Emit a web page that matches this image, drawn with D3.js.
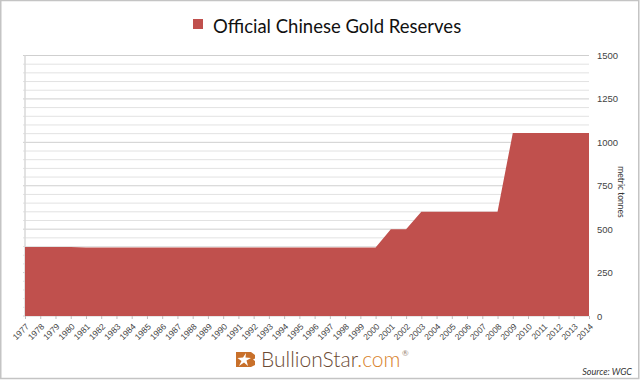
<!DOCTYPE html>
<html lang="en">

<head>
    <meta charset="UTF-8">
    <title>Official Chinese Gold Reserves</title>
    <script src="https://cdn.jsdelivr.net/npm/d3@7"></script>
    <style>
        html, body {
            margin: 0;
            padding: 0;
            background: #fff;
        }

        svg {
            display: block;
            font-family: Lato, "Open Sans", sans-serif;
        }

        .domain {
            display: none;
        }
    </style>
</head>

<body>
    <script>
        const years = [1977, 1978, 1979, 1980, 1981, 1982, 1983, 1984, 1985, 1986, 1987, 1988, 1989,
            1990, 1991, 1992, 1993, 1994, 1995, 1996, 1997, 1998, 1999, 2000, 2001, 2002, 2003,
            2004, 2005, 2006, 2007, 2008, 2009, 2010, 2011, 2012, 2013, 2014];
        const reserves = [398, 398, 398, 398, 395, 395, 395, 395, 395, 395, 395, 395, 395,
            395, 395, 395, 395, 395, 395, 395, 395, 395, 395, 395, 500, 500, 600,
            600, 600, 600, 600, 600, 1054, 1054, 1054, 1054, 1054, 1054];
        const yLabels = [0, 250, 500, 750, 1000, 1250, 1500];
        const minorGrid = d3.range(0, 1501, 50);

        const w = 640;
        const h = 380;
        const red = "#c0504d";

        const svg = d3.select("body")
            .append("svg")
            .attr("width", w)
            .attr("height", h);

        // picture frame
        svg.append("rect")
            .attr("x", 0.75)
            .attr("y", 0.5)
            .attr("width", 638)
            .attr("height", 378)
            .attr("fill", "#fff")
            .attr("stroke", "#c4c4c4")
            .attr("stroke-width", 1.5);

        const scaleX = d3.scaleLinear().domain([1977, 2014]).range([25, 589]);
        const scaleY = d3.scaleLinear().domain([0, 1500]).range([316, 55.5]);

        // grid, heavier on the labelled values
        svg.selectAll("line.grid")
            .data(minorGrid)
            .enter()
            .append("line")
            .attr("class", "grid")
            .attr("x1", 23)
            .attr("x2", 589)
            .attr("y1", d => scaleY(d))
            .attr("y2", d => scaleY(d))
            .attr("stroke", d => d % 250 === 0 ? "#cfcfcf" : "#e2e2e2")
            .attr("stroke-width", 1);

        // left edge of the plot
        svg.append("line")
            .attr("x1", 25)
            .attr("x2", 25)
            .attr("y1", scaleY(1500))
            .attr("y2", scaleY(0))
            .attr("stroke", "#d9d9d9")
            .attr("stroke-width", 1.5);

        const area = d3.area()
            .x((d, i) => scaleX(years[i]))
            .y0(scaleY(0))
            .y1(d => scaleY(d));

        svg.append("path")
            .datum(reserves)
            .attr("d", area)
            .attr("fill", red);

        const xAxis = d3.axisBottom(scaleX)
            .tickValues(years)
            .tickFormat(d3.format("d"))
            .tickSize(3);

        const gx = svg.append("g")
            .attr("transform", "translate(0," + scaleY(0) + ")")
            .call(xAxis);
        gx.selectAll("line").attr("stroke", "#bdbdbd");
        gx.selectAll("text")
            .attr("font-size", 8.5)
            .attr("fill", "#444")
            .attr("text-anchor", "end")
            .attr("x", 0)
            .attr("y", 0)
            .attr("dy", "0.35em")
            .attr("transform", "translate(2,9) rotate(-45)");

        const yAxis = d3.axisRight(scaleY)
            .tickValues(yLabels)
            .tickFormat(d3.format("d"))
            .tickSize(0)
            .tickPadding(8);

        const gy = svg.append("g")
            .attr("transform", "translate(589,0)")
            .call(yAxis);
        gy.selectAll("text")
            .attr("font-size", 9.5)
            .attr("fill", "#444");

        svg.append("text")
            .attr("transform", "translate(618,192) rotate(90)")
            .attr("text-anchor", "middle")
            .attr("font-size", 8.5)
            .attr("fill", "#333")
            .text("metric tonnes");

        // legend
        svg.append("rect")
            .attr("x", 193)
            .attr("y", 19)
            .attr("width", 10)
            .attr("height", 10)
            .attr("fill", red);
        svg.append("text")
            .attr("x", 213)
            .attr("y", 32.5)
            .attr("font-size", 18.5)
            .attr("fill", "#111")
            .text("Official Chinese Gold Reserves");

        // logo
        const logo = svg.append("g").attr("transform", "translate(236,352)");
        logo.append("path")
            .attr("d", "M0 0H15L19 3V6.5L17 7.5L19 9V13L15 15H0Z")
            .attr("fill", "#c8702a");
        logo.append("path")
            .attr("d", "M10 1L9.5 5.5L15 6L10.5 8.5L12 14L8 10.5L3 14L5.5 9L1.5 6L7 5.5Z")
            .attr("fill", "#fff");
        svg.append("text")
            .attr("x", 261)
            .attr("y", 367)
            .attr("font-size", 21)
            .attr("font-weight", 300)
            .attr("fill", "#6b4a33")
            .text("BullionStar")
            .append("tspan")
            .attr("fill", "#d9822b")
            .text(".com");
        svg.append("text")
            .attr("x", 402)
            .attr("y", 356)
            .attr("font-size", 8)
            .attr("fill", "#9a8672")
            .text("®");

        svg.append("text")
            .attr("x", 632)
            .attr("y", 375)
            .attr("text-anchor", "end")
            .attr("font-size", 9)
            .attr("font-style", "italic")
            .attr("fill", "#333")
            .text("Source: WGC");
    </script>
</body>

</html>
